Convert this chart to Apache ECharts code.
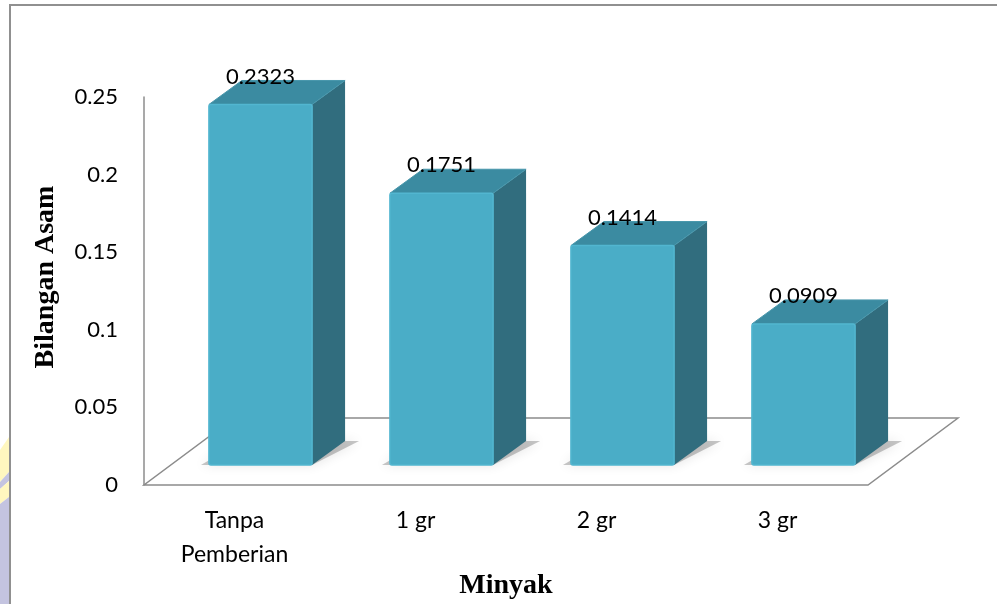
<!DOCTYPE html>
<html>
<head>
<meta charset="utf-8">
<script src="https://cdn.jsdelivr.net/npm/echarts@6/dist/echarts.min.js"></script>
<style>
  html, body { margin: 0; padding: 0; background: #fff; }
  #chart { width: 997px; height: 604px; }
</style>
</head>
<body>
<div id="chart"></div>
<script>
// data
const categories = ['Tanpa\nPemberian', '1 gr', '2 gr', '3 gr'];
const acidValues = [0.2323, 0.1751, 0.1414, 0.0909];
const yTicks = { min: 0, max: 0.25, step: 0.05 };
const xTitle = 'Minyak';
const yTitle = 'Bilangan Asam';

// pseudo 3d look (pixels)
const FRONT = { x: 26, y: -20 };   // bar front face sits a bit into the floor
const DEPTH = { x: 33, y: -24 };   // bar depth
const FLOOR = { x: 90, y: -67 };   // floor depth
const colFront = '#4aadc7';
const colTop = '#3b8ba1';
const colSide = '#316d7e';
const lineGray = '#8c8c8c';

const chart = echarts.init(document.getElementById('chart'));

function renderFloor(params, api) {
  const cs = params.coordSys;
  const l = cs.x, r = cs.x + cs.width, b = cs.y + cs.height;
  return {
    type: 'polygon',
    shape: { points: [[l, b], [r, b], [r + FLOOR.x, b + FLOOR.y], [l + FLOOR.x, b + FLOOR.y]] },
    style: { fill: '#fff', stroke: lineGray, lineWidth: 1.5 },
    z2: 0
  };
}

function renderBar(params, api) {
  const idx = api.value(0);
  const val = api.value(1);
  const base = api.coord([idx, 0]);
  const top = api.coord([idx, val]);
  const w = api.size([1, 0])[0] * 0.57;
  const x0 = base[0] - w / 2 + FRONT.x;
  const x1 = x0 + w;
  const yb = base[1] + FRONT.y;
  const yt = top[1] + FRONT.y;
  return {
    type: 'group',
    children: [
      {
        type: 'polygon',
        shape: { points: [[x0 - 8, yb], [x1, yb], [x1 + DEPTH.x + 14, yb + DEPTH.y], [x0 + DEPTH.x, yb + DEPTH.y]] },
        style: { fill: 'rgba(0,0,0,0.22)', shadowBlur: 12, shadowColor: 'rgba(0,0,0,0.5)' }
      },
      {
        type: 'polygon',
        shape: { points: [[x1, yt], [x1 + DEPTH.x, yt + DEPTH.y], [x1 + DEPTH.x, yb + DEPTH.y], [x1, yb]] },
        style: { fill: colSide }
      },
      {
        type: 'polygon',
        shape: { points: [[x0, yt], [x1, yt], [x1 + DEPTH.x, yt + DEPTH.y], [x0 + DEPTH.x, yt + DEPTH.y]] },
        style: { fill: colTop, stroke: '#4796ab', lineWidth: 1 }
      },
      {
        type: 'rect',
        shape: { x: x0, y: yt, width: w, height: yb - yt, r: 2 },
        style: { fill: colFront, stroke: '#52b6d0', lineWidth: 1.5 }
      },
      {
        type: 'text',
        x: x0 + w / 2,
        y: yt - 28,
        style: {
          text: String(val),
          fill: '#000',
          font: '22px Lato',
          align: 'center',
          verticalAlign: 'middle'
        }
      }
    ]
  };
}

chart.setOption({
  backgroundColor: '#fff',
  animation: false,
  grid: { left: 144, right: 129, top: 97, bottom: 119 },
  xAxis: {
    type: 'category',
    data: categories,
    axisLine: { show: false },
    axisTick: { show: false },
    axisLabel: {
      margin: 19,
      color: '#000',
      fontFamily: 'Lato',
      fontSize: 23,
      lineHeight: 34,
      verticalAlign: 'top'
    }
  },
  yAxis: {
    type: 'value',
    min: yTicks.min,
    max: yTicks.max,
    interval: yTicks.step,
    axisLine: { show: true, lineStyle: { color: lineGray, width: 1.5 } },
    axisTick: { show: false },
    splitLine: { show: false },
    axisLabel: { margin: 26, color: '#000', fontFamily: 'Lato', fontSize: 22 }
  },
  series: [
    {
      type: 'custom',
      name: 'floor',
      renderItem: renderFloor,
      data: [[0, 0]],
      z: 1,
      silent: true
    },
    {
      type: 'custom',
      name: yTitle,
      renderItem: renderBar,
      encode: { x: 0, y: 1 },
      data: acidValues.map((v, i) => [i, v]),
      z: 2
    }
  ],
  graphic: [
    {
      type: 'rect',
      shape: { x: 10, y: 5, width: 1100, height: 700 },
      style: { fill: 'none', stroke: '#909090', lineWidth: 2 },
      z: 100
    },
    { type: 'polygon', shape: { points: [[0, 450], [9, 437], [9, 472], [0, 482]] }, style: { fill: '#fff7bf' } },
    { type: 'polygon', shape: { points: [[0, 482], [9, 472], [9, 481], [0, 489]] }, style: { fill: '#c4c4e0' } },
    { type: 'polygon', shape: { points: [[0, 489], [9, 481], [9, 497], [0, 504]] }, style: { fill: '#fff7bf' } },
    { type: 'polygon', shape: { points: [[0, 504], [9, 497], [9, 604], [0, 604]] }, style: { fill: '#c4c4e0' } },
    {
      type: 'text',
      x: 46,
      y: 277,
      rotation: Math.PI / 2,
      style: {
        text: yTitle,
        fill: '#000',
        font: 'bold 28px "Liberation Serif"',
        align: 'center',
        verticalAlign: 'middle'
      }
    },
    {
      type: 'text',
      x: 506,
      y: 586,
      style: {
        text: xTitle,
        fill: '#000',
        font: 'bold 28px "Liberation Serif"',
        align: 'center',
        verticalAlign: 'middle'
      }
    }
  ]
});
</script>
</body>
</html>
